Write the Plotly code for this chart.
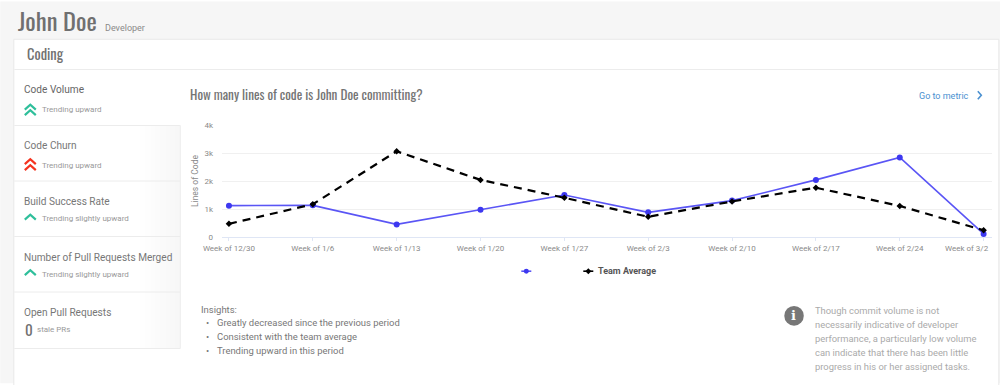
import plotly.graph_objects as go

W, H = 1000, 385
categories = ["Week of 12/30", "Week of 1/6", "Week of 1/13", "Week of 1/20", "Week of 1/27",
              "Week of 2/3", "Week of 2/10", "Week of 2/17", "Week of 2/24", "Week of 3/2"]
john_doe = [1120, 1130, 450, 970, 1500, 880, 1300, 2040, 2840, 110]
team_average = [470, 1170, 3060, 2040, 1400, 720, 1270, 1760, 1110, 240]
y_ticks = [0, 1000, 2000, 3000, 4000]
y_labels = ["0", "1k", "2k", "3k", "4k"]

L, R, T, B = 221.7, 991.7, 124.5, 237.5


def px(x):
    return (x - L) / (R - L)


def py(y):
    return (B - y) / (B - T)


shapes = []


def rect(x0, y0, x1, y1, fill, line=None):
    shapes.append(dict(type="rect", xref="paper", yref="paper", layer="below",
                       x0=px(x0), x1=px(x1), y0=py(y1), y1=py(y0), fillcolor=fill,
                       line=dict(color=line or fill, width=1 if line else 0)))


def hline(x0, x1, y, color="#ececec"):
    shapes.append(dict(type="line", xref="paper", yref="paper", layer="below",
                       x0=px(x0), x1=px(x1), y0=py(y), y1=py(y), line=dict(color=color, width=1)))


def chevron(cx, ytop, color, half=5.5, h=5):
    d = f"M {px(cx-half)} {py(ytop+h)} L {px(cx)} {py(ytop)} L {px(cx+half)} {py(ytop+h)}"
    shapes.append(dict(type="path", xref="paper", yref="paper", path=d,
                       line=dict(color=color, width=2.2)))


rect(0, 0, W, H, "#f6f6f6")
rect(13.5, 38, 998.5, H + 5, "#ffffff", "#e8e8e8")
hline(14, 998, 68.5)
# soft fade towards the right edge of the inactive side-menu rows
for i, col in enumerate(["#fefefe", "#fdfdfd", "#fcfcfc", "#fbfbfb", "#fafafa", "#f9f9f9", "#f8f8f8", "#f7f7f7"]):
    rect(140 + i * 5, 125, 180, 350, col)
hline(14, 180, 125)
hline(14, 180, 181)
hline(14, 180, 237)
hline(14, 180, 293)
hline(14, 180, 350)
shapes.append(dict(type="line", xref="paper", yref="paper", layer="below", x0=px(180), x1=px(180),
                   y0=py(125), y1=py(350), line=dict(color="#eeeeee", width=1)))

GREEN, RED = "#2fbf9b", "#f5331f"
chevron(30, 104, GREEN)
chevron(30, 109.5, GREEN)
chevron(30, 159, RED)
chevron(30, 165, RED)
chevron(30, 215, GREEN)
chevron(30, 271, GREEN)

d = f"M {px(977.5)} {py(90.5)} L {px(981)} {py(94.5)} L {px(977.5)} {py(98.5)}"
shapes.append(dict(type="path", xref="paper", yref="paper", path=d, line=dict(color="#4a90d0", width=1.6)))

shapes.append(dict(type="circle", xref="paper", yref="paper", x0=px(784), x1=px(803.5),
                   y0=py(327), y1=py(307), fillcolor="#777777", line=dict(width=0)))

NARROW = "Liberation Sans Narrow, Oswald, sans-serif"
BODY = "Roboto, sans-serif"
annotations = []


def text(x, y, s, size, color, family=BODY, anchor="left", **kw):
    annotations.append(dict(text=s, x=px(x - 1), y=py(y + 0.7), xref="paper", yref="paper", showarrow=False,
                            xanchor=anchor, yanchor="middle", align=anchor, borderpad=0,
                            font=dict(size=size, color=color, family=family), **kw))


text(18, 17.5, "John Doe", 24.5, "#707070", NARROW)
text(105, 25.5, "Developer", 9, "#8a8a8a")
text(27, 52, "Coding", 14.5, "#707070", NARROW)
text(190, 93, "How many lines of code is John Doe committing?", 13.2, "#747474", NARROW)
text(919, 94.5, "Go to metric", 9, "#4a90d0")

text(24, 88, "Code Volume", 10.1, "#666666")
text(41.5, 108.5, "Trending upward", 8, "#999999")
text(24, 144, "Code Churn", 10.1, "#777777")
text(41.5, 164.5, "Trending upward", 8, "#999999")
text(24, 200.5, "Build Success Rate", 10.1, "#777777")
text(41.5, 218, "Trending slightly upward", 8, "#999999")
text(24, 257, "Number of Pull Requests Merged", 10.1, "#777777")
text(41.5, 274.5, "Trending slightly upward", 8, "#999999")
text(24, 313, "Open Pull Requests", 10.1, "#777777")
text(24.5, 330, "0", 15, "#707070", NARROW)
text(36.5, 330.5, "stale PRs", 8, "#999999")

text(201, 309.5, "Insights:", 9.5, "#777777")
for yy, s in [(323, "Greatly decreased since the previous period"),
              (337, "Consistent with the team average"),
              (351, "Trending upward in this period")]:
    text(206, yy, "•", 9.5, "#777777")
    text(217, yy, s, 9.45, "#777777")

for yy, s in [(311, "Though commit volume is not"),
              (325, "necessarily indicative of developer"),
              (339, "performance, a particularly low volume"),
              (353, "can indicate that there has been little"),
              (367, "progress in his or her assigned tasks.")]:
    text(815, yy, s, 9.4, "#aaaaaa")
text(794.5, 316.5, "<b>i</b>", 13, "#ffffff", "DejaVu Serif, serif", anchor="center")

text(598, 271.5, "<b>Team Average</b>", 9, "#555555")
# The last category label sits flush with the right end of the axis, so it cannot be centred on its tick.
text(990.5, 248.5, categories[-1], 8, "#8a8a8a", anchor="right")

fig = go.Figure()
fig.add_trace(go.Scatter(x=categories, y=john_doe, mode="lines+markers", name=" ",
                         line=dict(color="#5a55f5", width=1.6),
                         marker=dict(color="#3d38f0", size=6, symbol="circle"), showlegend=False))
fig.add_trace(go.Scatter(x=categories, y=team_average, mode="lines+markers", name="Team Average",
                         line=dict(color="#000000", width=2.2, dash="8px,6px"),
                         marker=dict(color="#000000", size=5, symbol="diamond"), showlegend=False))

shapes.append(dict(type="line", xref="paper", yref="paper", x0=px(521), x1=px(531), y0=py(272), y1=py(272),
                   line=dict(color="#5a55f5", width=1.6)))
shapes.append(dict(type="circle", xref="paper", yref="paper", x0=px(523.5), x1=px(528.5), y0=py(274.5), y1=py(269.5),
                   fillcolor="#3d38f0", line=dict(width=0)))
shapes.append(dict(type="line", xref="paper", yref="paper", x0=px(583), x1=px(593), y0=py(272), y1=py(272),
                   line=dict(color="#000000", width=1.6)))
shapes.append(dict(type="path", xref="paper", yref="paper",
                   path=f"M {px(588)} {py(269)} L {px(591)} {py(272)} L {px(588)} {py(275)} L {px(585)} {py(272)} Z",
                   fillcolor="#000000", line=dict(width=0)))

fig.update_layout(
    width=W, height=H, margin=dict(l=L, r=W - R, t=T, b=H - B, autoexpand=False),
    paper_bgcolor="#ffffff", plot_bgcolor="rgba(0,0,0,0)",
    showlegend=False, shapes=shapes, annotations=annotations,
    font=dict(family=BODY),
    xaxis=dict(type="category", range=[-0.083, 9.1], showgrid=False, zeroline=False, showline=True,
               automargin=False, tickmode="array", tickvals=categories,
               ticktext=categories[:-1] + [""],
               linecolor="#dfe6f5", linewidth=1, ticks="outside", ticklen=3, tickcolor="#dfe6f5",
               tickfont=dict(size=8, color="#8a8a8a"), tickangle=0, fixedrange=True),
    yaxis=dict(range=[0, 4000], tickvals=y_ticks, ticktext=y_labels, showgrid=True, gridcolor="#f0f0f0",
               automargin=False, gridwidth=1, zeroline=False, showline=False,
               tickfont=dict(size=8, color="#8a8a8a"), ticks="", ticklabelstandoff=8,
               title=dict(text="Lines of Code", font=dict(size=8.5, color="#8a8a8a"), standoff=4)),
)
fig.update_traces(cliponaxis=False)
fig.write_html("out.html", config=dict(displayModeBar=False),
               post_script="document.body.style.margin='0';document.body.style.overflow='hidden';")
